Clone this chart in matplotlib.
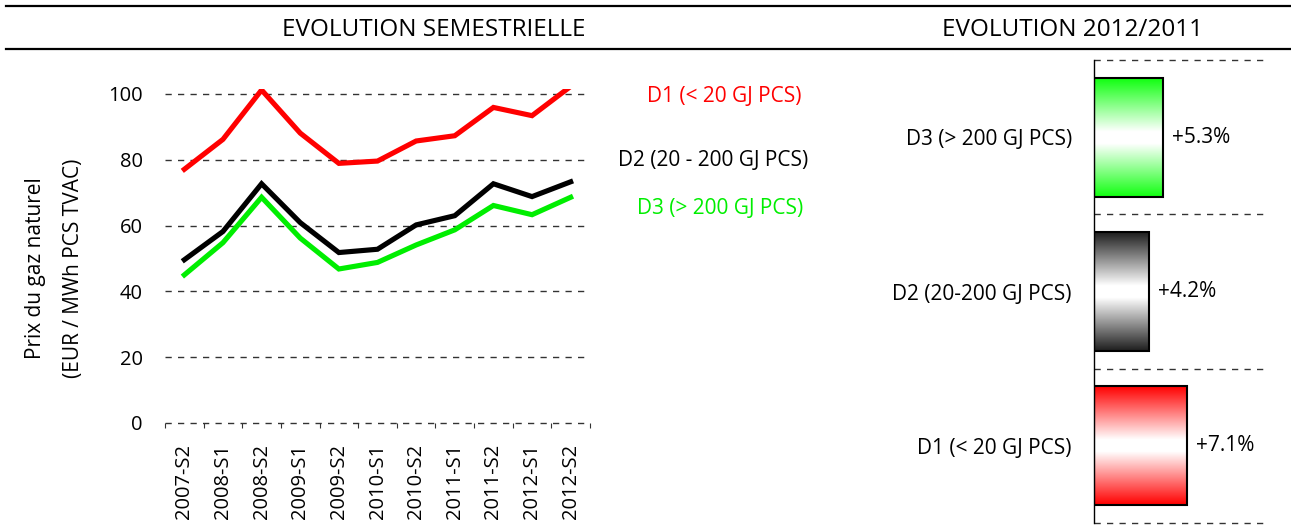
import numpy as np
import matplotlib.pyplot as plt
from matplotlib.colors import LinearSegmentedColormap
from matplotlib.lines import Line2D
from matplotlib.patches import Rectangle

plt.rcParams['font.family'] = ['Open Sans', 'DejaVu Sans']

# données
periodes = ['2007-S2', '2008-S1', '2008-S2', '2009-S1', '2009-S2', '2010-S1',
            '2010-S2', '2011-S1', '2011-S2', '2012-S1', '2012-S2']
d1 = [77.1, 86.2, 101.2, 88.1, 78.9, 79.6, 85.7, 87.3, 95.9, 93.4, 102.3]
d2 = [49.6, 58.2, 72.7, 60.9, 51.8, 52.8, 60.2, 63.0, 72.7, 68.8, 73.3]
d3 = [45.0, 54.8, 68.6, 56.2, 46.8, 48.8, 54.1, 58.7, 66.1, 63.3, 68.6]

categories = ['D1 (< 20 GJ PCS)', 'D2 (20-200 GJ PCS)', 'D3 (> 200 GJ PCS)']
evolution = [7.1, 4.2, 5.3]

ROUGE = '#ff0000'
NOIR = '#000000'
VERT = '#00ee00'

W, H = 1291, 531
fig = plt.figure(figsize=(W / 100, H / 100), dpi=100)


def px(x, y):
    return x / W, 1 - y / H


# bandeaux du haut
for yy in (6, 49):
    fig.add_artist(Line2D([6 / W, 1], [1 - yy / H] * 2, color='black', lw=1.6))
fig.text(*px(434, 30), 'EVOLUTION SEMESTRIELLE', ha='center', va='center', fontsize=17.5)
fig.text(*px(1073, 30), 'EVOLUTION 2012/2011', ha='center', va='center', fontsize=17.5)

# graphe de gauche : évolution semestrielle
ax1 = fig.add_axes([165 / W, 1 - 423 / H, (590 - 165) / W, (423 - 89) / H])
x = np.arange(len(periodes))
for yv in range(0, 101, 20):
    ax1.axhline(yv, color='#333333', lw=1, ls=(0, (4.5, 4.5)), zorder=1, clip_on=False)
ax1.plot(x, d3, color=VERT, lw=3.7, zorder=3, solid_joinstyle='miter')
ax1.plot(x, d2, color=NOIR, lw=3.7, zorder=3, solid_joinstyle='miter')
ax1.plot(x, d1, color=ROUGE, lw=3.7, zorder=3, solid_joinstyle='miter')
ax1.set_xlim(-0.5, len(periodes) - 0.5)
ax1.set_ylim(0, 101.5)
for s in ax1.spines.values():
    s.set_visible(False)
ax1.set_yticks(range(0, 101, 20))
ax1.tick_params(axis='y', length=0, pad=16, labelsize=14.5)
ax1.set_xticks(x)
ax1.set_xticklabels(periodes, rotation=90, fontsize=14.5)
ax1.set_xticks(np.arange(-0.5, len(periodes)), minor=True)
ax1.tick_params(axis='x', which='major', length=0, pad=15)
ax1.tick_params(axis='x', which='minor', length=3.5, width=0.8, color='#333333', direction='out')

fig.text(*px(36, 268), 'Prix du gaz naturel', rotation=90, ha='center', va='center', fontsize=15)
fig.text(*px(73, 268), '(EUR / MWh PCS TVAC)', rotation=90, ha='center', va='center', fontsize=15)

fig.text(*px(724, 97), 'D1 (< 20 GJ PCS)', color=ROUGE, ha='center', va='center', fontsize=15)
fig.text(*px(713, 160), 'D2 (20 - 200 GJ PCS)', color=NOIR, ha='center', va='center', fontsize=15)
fig.text(*px(720, 208), 'D3 (> 200 GJ PCS)', color=VERT, ha='center', va='center', fontsize=15)

# graphe de droite : évolution 2012/2011
ax2 = fig.add_axes([1094 / W, 1 - 523 / H, 170 / W, (523 - 60) / H])
couleurs = [ROUGE, '#1e1e1e', '#10ff10']
h = 0.77
grad = np.linspace(0, 1, 256).reshape(-1, 1)
for i, (v, c) in enumerate(zip(evolution, couleurs)):
    cmap = LinearSegmentedColormap.from_list('g', [(0, c), (0.45, 'white'), (0.55, 'white'), (1, c)])
    ax2.imshow(grad, extent=(0, v, i - h / 2, i + h / 2), cmap=cmap, aspect='auto',
               origin='lower', zorder=2)
    ax2.add_patch(Rectangle((0, i - h / 2), v, h, fill=False, edgecolor='black', lw=1.5, zorder=3))
    ax2.text(v + 0.7, i, f'+{v}%', va='center', ha='left', fontsize=15)
for yv in np.arange(-0.5, 3, 1):
    ax2.axhline(yv, color='#333333', lw=1, ls=(0, (4.5, 4.5)), zorder=1, clip_on=False)
ax2.set_xlim(0, 13)
ax2.set_ylim(-0.5, 2.5)
for k in ('top', 'right', 'bottom'):
    ax2.spines[k].set_visible(False)
ax2.spines['left'].set_linewidth(1)
ax2.set_xticks([])
ax2.set_yticks(range(len(categories)))
ax2.set_yticklabels(categories, fontsize=15)
ax2.tick_params(axis='y', length=0, pad=16)

fig.savefig('out.png', dpi=100)
